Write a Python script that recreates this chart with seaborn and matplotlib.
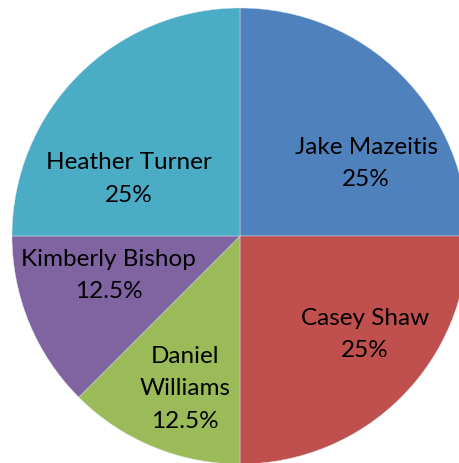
import matplotlib
matplotlib.use("Agg")
import matplotlib.pyplot as plt
import seaborn as sns

# slices in clockwise order starting at 12 o'clock
names = ["Jake Mazeitis", "Casey Shaw", "Daniel\nWilliams", "Kimberly Bishop", "Heather Turner"]
shares = [25, 25, 12.5, 12.5, 25]
pct_labels = ["25%", "25%", "12.5%", "12.5%", "25%"]
colors = ["#4F81BD", "#C0504D", "#9BBB59", "#8064A2", "#4BACC6"]

# where each label block sits, as a fraction of the radius
label_pos = [(0.553, 0.316), (0.548, -0.43), (-0.241, -0.671), (-0.575, -0.175), (-0.487, 0.25)]

sns.set_theme(style="white")
plt.rcParams["font.family"] = ["Lato", "DejaVu Sans"]

fig = plt.figure(figsize=(4.6, 4.63), dpi=100)
# pie centre at (240, 236) px from top-left, radius 228 px
ax = fig.add_axes([12 / 460, (463 - 236 - 228) / 463, 456 / 460, 456 / 463])

ax.pie(shares, colors=colors, startangle=90, counterclock=False,
       wedgeprops=dict(linewidth=0.3, edgecolor="#dde6ee"))

for name, pct, (x, y) in zip(names, pct_labels, label_pos):
    ax.text(x, y, f"{name}\n{pct}", ha="center", va="center",
            fontsize=17.5, color="black", linespacing=1.65)

ax.set_xlim(-1, 1)
ax.set_ylim(-1, 1)
ax.set_aspect("equal")
ax.axis("off")

fig.savefig("out.png", dpi=100)
